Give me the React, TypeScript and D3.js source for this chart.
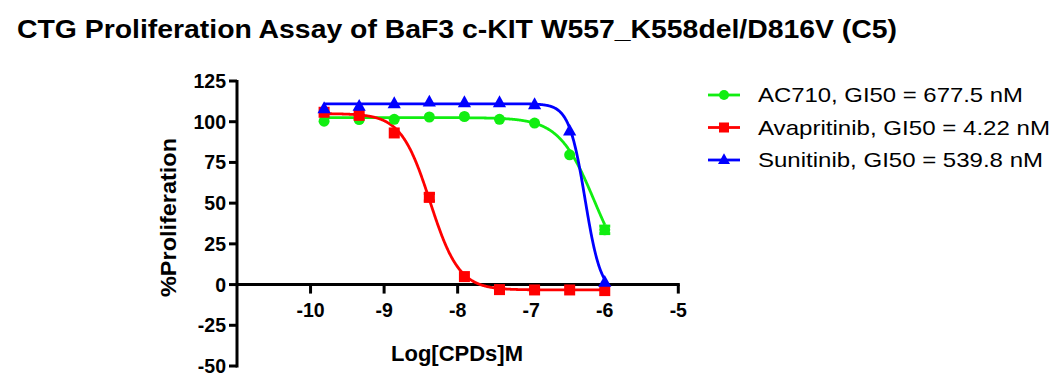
import React from "react";
import * as d3 from "d3";

const logDose = [-9.816, -9.339, -8.862, -8.385, -7.908, -7.431, -6.954, -6.477, -6.0];

const ac710Mean = [100.3, 101.3, 101.5, 102.9, 103.2, 101.5, 99.2, 79.7, 33.6];
const ac710Err = [0, 0, 0, 0, 0, 0, 0, 0, 2.3];
const avaMean = [105.8, 103.9, 93.1, 53.6, 4.9, -3.1, -3.3, -3.3, -3.7];
const avaErr = [0, 0, 0, 2.3, 0, 0, 0, 0, 0];
const suniMean = [108.0, 109.5, 111.1, 112.1, 111.7, 111.7, 110.5, 94.3, 1.4];
const suniErr = [0, 0, 0, 0, 0, 0, 0, 0, 0];

// 4PL fit parameters: [bottom, top, logGI50, hill]
const ac710Fit = [0, 102.5, -6.14, 1.8];
const avaFit = [-3.3, 105, -8.375, 2.2];
const suniFit = [-6, 111, -6.268, 4.0];

const seriesNames = ["AC710, GI50 = 677.5 nM", "Avapritinib, GI50 = 4.22 nM", "Sunitinib, GI50 = 539.8 nM"];
const legendWidths = [265, 292, 285];
const seriesColors = ["#11ee11", "#ff0000", "#0000ff"];
const seriesShapes = ["circle", "square", "triangle"];

const xTicks = [-10, -9, -8, -7, -6, -5];
const yTicks = [-50, -25, 0, 25, 50, 75, 100, 125];

const FONT = "'Liberation Sans', Arial, sans-serif";

function Marker({ shape, x, y, color, size = 11 }: any) {
  if (shape === "circle") return <circle cx={x} cy={y} r={size / 2} fill={color} />;
  if (shape === "square")
    return <rect x={x - size / 2} y={y - size / 2} width={size} height={size} fill={color} />;
  const s = size * 1.2;
  const h = s * 0.9;
  return (
    <path
      d={`M${x},${y - h * 0.62} L${x + s / 2},${y + h * 0.38} L${x - s / 2},${y + h * 0.38} Z`}
      fill={color}
    />
  );
}

export default function App() {
  const x = d3.scaleLinear().domain([-11, -5]).range([237, 678.3]);
  const y = d3.scaleLinear().domain([-50, 125]).range([366, 81]);

  const series = [
    { mean: ac710Mean, err: ac710Err, fit: ac710Fit },
    { mean: avaMean, err: avaErr, fit: avaFit },
    { mean: suniMean, err: suniErr, fit: suniFit },
  ];

  const line = d3
    .line<number[]>()
    .x((d) => x(d[0]))
    .y((d) => y(d[1]));

  const fitCurve = (p: number[]) => {
    const [b, t, c, h] = p;
    const f = (lx: number) => b + (t - b) / (1 + Math.pow(10, (lx - c) * h));
    const pts = d3.range(logDose[0], -6.0, 0.005).map((lx) => [lx, f(lx)]);
    pts.push([-6.0, f(-6.0)]);
    return line(pts as any) || "";
  };

  return (
    <svg width={1058} height={379} style={{ position: "absolute", left: 0, top: 0, background: "#fff" }} fontFamily={FONT}>
      <rect width={1058} height={379} fill="#fff" />
      <text x={17} y={38} fontSize={25} fontWeight="bold" fill="#000" textLength={880} lengthAdjust="spacingAndGlyphs">
        CTG Proliferation Assay of BaF3 c-KIT W557_K558del/D816V (C5)
      </text>

      {/* Y axis */}
      <line x1={x(-11)} x2={x(-11)} y1={y(125) - 1} y2={y(-50) + 1.5} stroke="#000" strokeWidth={3} />
      {yTicks.map((t) => (
        <g key={t}>
          <line x1={x(-11) - 8} x2={x(-11)} y1={y(t)} y2={y(t)} stroke="#000" strokeWidth={3} />
          <text x={x(-11) - 11} y={y(t) + 7} textAnchor="end" fontSize={19.5} fontWeight="bold">
            {t}
          </text>
        </g>
      ))}

      {/* X axis */}
      <line x1={x(-11)} x2={x(-5) + 1.5} y1={y(0)} y2={y(0)} stroke="#000" strokeWidth={3} />
      {xTicks.map((t) => (
        <g key={t}>
          <line x1={x(t)} x2={x(t)} y1={y(0)} y2={y(0) + 9} stroke="#000" strokeWidth={3} />
          <text x={x(t)} y={y(0) + 32} textAnchor="middle" fontSize={19.5} fontWeight="bold">
            {t}
          </text>
        </g>
      ))}

      <text x={457} y={361} textAnchor="middle" fontSize={22} fontWeight="bold">
        Log[CPDs]M
      </text>
      <text
        transform={`translate(176,217.5) rotate(-90)`}
        textAnchor="middle"
        fontSize={21.5}
        fontWeight="bold"
        textLength={159}
        lengthAdjust="spacingAndGlyphs"
      >
        %Proliferation
      </text>

      {/* Curves */}
      {series.map((s, i) => (
        <path key={"c" + i} d={fitCurve(s.fit)} fill="none" stroke={seriesColors[i]} strokeWidth={2.8} />
      ))}

      {/* Error bars and markers */}
      {series.map((s, i) => (
        <g key={"m" + i}>
          {s.mean.map((m, j) =>
            s.err[j] > 0 ? (
              <g key={j}>
                <line x1={x(logDose[j])} x2={x(logDose[j])} y1={y(m + s.err[j])} y2={y(m - s.err[j])} stroke={seriesColors[i]} strokeWidth={3} />
                <line x1={x(logDose[j]) - 5.5} x2={x(logDose[j]) + 5.5} y1={y(m + s.err[j])} y2={y(m + s.err[j])} stroke={seriesColors[i]} strokeWidth={3} />
                <line x1={x(logDose[j]) - 5.5} x2={x(logDose[j]) + 5.5} y1={y(m - s.err[j])} y2={y(m - s.err[j])} stroke={seriesColors[i]} strokeWidth={3} />
              </g>
            ) : null
          )}
          {s.mean.map((m, j) => (
            <Marker key={j} shape={seriesShapes[i]} x={x(logDose[j])} y={y(m)} color={seriesColors[i]} />
          ))}
        </g>
      ))}

      {/* Legend */}
      {seriesNames.map((n, i) => {
        const ly = 95 + i * 32.5;
        return (
          <g key={"l" + i}>
            <line x1={708} x2={740} y1={ly} y2={ly} stroke={seriesColors[i]} strokeWidth={2.8} />
            <Marker shape={seriesShapes[i]} x={724} y={ly} color={seriesColors[i]} size={10} />
            <text x={758} y={ly + 7} fontSize={21} fill="#000" textLength={legendWidths[i]} lengthAdjust="spacingAndGlyphs">
              {n}
            </text>
          </g>
        );
      })}
    </svg>
  );
}
